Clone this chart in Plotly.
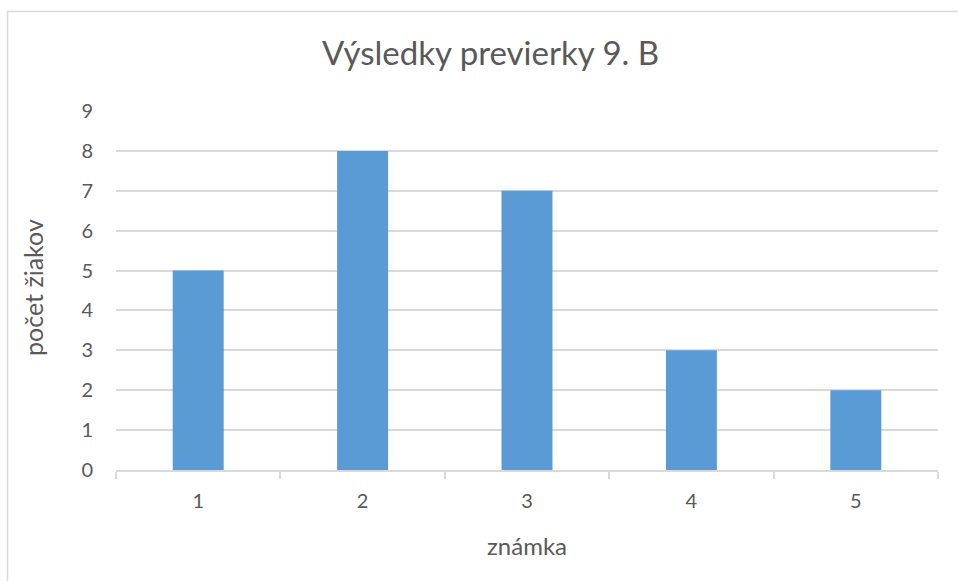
import plotly.graph_objects as go

categories = ["1", "2", "3", "4", "5"]
values = [5, 8, 7, 3, 2]
title_text = "Výsledky previerky 9. B"
x_title = "známka"
y_title = "počet žiakov"

W, H = 958, 581
L, R, T, B = 116, 20, 111, 111
pw, ph = W - L - R, H - T - B

def px_x(x):
    return (x - L) / pw

def px_y(y):
    return (H - B - y) / ph

FONT = "Lato, 'Open Sans', sans-serif"
TXT = "#595959"
GRID = "#d9d9d9"

fig = go.Figure(go.Bar(x=categories, y=values, marker=dict(color="#5b9bd5", line=dict(width=0))))

fig.update_layout(
    width=W, height=H,
    margin=dict(l=L, r=R, t=T, b=B),
    paper_bgcolor="white", plot_bgcolor="white",
    bargap=0.69,
    showlegend=False,
    font=dict(family=FONT, color=TXT, size=20),
    xaxis=dict(
        type="category", tickson="boundaries", ticks="outside", ticklen=7,
        tickcolor=GRID, tickwidth=1.5, showline=True, linecolor=GRID, linewidth=1.5,
        showgrid=False, ticklabelstandoff=12, tickfont=dict(size=20, color=TXT),
    ),
    yaxis=dict(
        range=[0, 9], dtick=1, showgrid=True, gridcolor=GRID, gridwidth=1.5,
        zeroline=False, showline=False, ticks="", ticklabelstandoff=22,
        tickfont=dict(size=20, color=TXT),
    ),
    shapes=[dict(type="rect", xref="paper", yref="paper",
                 x0=px_x(7.5), x1=px_x(1000), y0=px_y(640), y1=px_y(11.5),
                 line=dict(color=GRID, width=1.5), fillcolor="rgba(0,0,0,0)", layer="below")],
    annotations=[
        dict(text=title_text, xref="paper", yref="paper", x=px_x(490), y=px_y(52),
             showarrow=False, font=dict(size=33, color=TXT, family=FONT), xanchor="center", yanchor="middle"),
        dict(text=x_title, xref="paper", yref="paper", x=px_x(527), y=px_y(545),
             showarrow=False, font=dict(size=24, color=TXT, family=FONT), xanchor="center", yanchor="middle"),
        dict(text=y_title, xref="paper", yref="paper", x=px_x(33), y=px_y(288),
             showarrow=False, textangle=-90, font=dict(size=25, color=TXT, family=FONT),
             xanchor="center", yanchor="middle"),
    ],
)

fig.write_html("out.html", config={"displayModeBar": False},
               post_script="document.body.style.margin='0';document.body.style.overflow='hidden';")
